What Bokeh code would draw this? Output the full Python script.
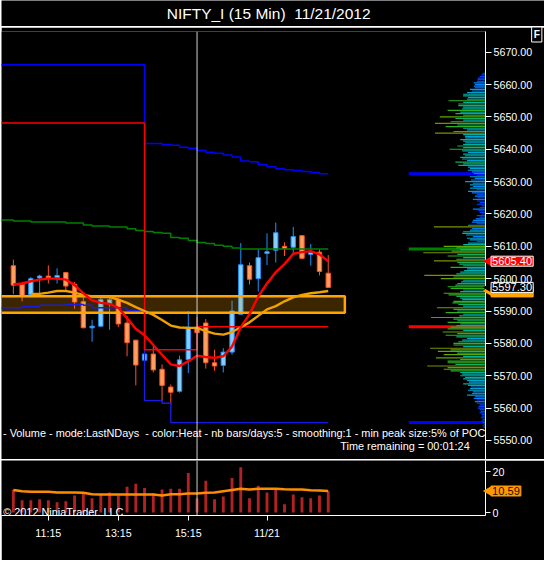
import math
import numpy as np
from bokeh.plotting import figure
from bokeh.models import Range1d, FixedTicker, NumeralTickFormatter, Span, Label, ColumnDataSource, GridBox
from bokeh.embed import file_html
from bokeh.resources import INLINE

S = 544 / 560.0
FONT = "Liberation Sans"
def fs(px):
    return f"{px * S:.1f}px"

# ---------------- data ----------------
bar_idx = list(range(37))
opens = [5604.0, 5598.3, 5595.0, 5600.2, 5600.8, 5600.3, 5601.9, 5598.3, 5592.9, 5584.8,
         5585.3, 5592.2, 5593.5, 5586.3, 5581.0, 5574.8, 5576.7, 5572.0, 5566.5, 5565.2,
         5575.0, 5585.0, 5586.3, 5574.0, 5573.2, 5577.3, 5589.0, 5604.0, 5600.0, 5607.8,
         5608.8, 5610.0, 5609.7, 5613.3, 5607.5, 5608.2, 5601.7]
closes = [5598.0, 5594.8, 5600.0, 5600.8, 5600.2, 5601.0, 5597.7, 5592.8, 5584.8, 5585.3,
          5593.5, 5593.5, 5586.0, 5580.2, 5573.3, 5576.7, 5571.8, 5567.0, 5564.9, 5574.9,
          5585.0, 5583.3, 5574.0, 5573.0, 5577.3, 5590.0, 5604.3, 5599.8, 5606.5, 5608.3,
          5614.2, 5609.3, 5613.0, 5606.3, 5608.1, 5602.2, 5597.3]
highs = [5605.9, 5599.0, 5600.5, 5601.2, 5604.1, 5603.2, 5602.0, 5599.0, 5594.2, 5587.3,
         5594.0, 5594.5, 5594.0, 5588.5, 5581.0, 5577.0, 5579.2, 5573.5, 5567.3, 5576.2,
         5590.0, 5588.2, 5587.5, 5578.0, 5578.5, 5593.2, 5611.0, 5605.0, 5609.0, 5614.0,
         5617.3, 5611.2, 5616.0, 5613.3, 5610.7, 5609.0, 5607.3]
lows = [5595.2, 5593.0, 5594.5, 5595.0, 5598.5, 5598.5, 5596.5, 5590.7, 5584.8, 5580.5,
        5585.0, 5584.2, 5585.0, 5576.0, 5567.0, 5574.5, 5571.0, 5562.0, 5561.0, 5564.8,
        5570.8, 5583.3, 5572.2, 5571.5, 5571.0, 5576.5, 5589.0, 5598.2, 5596.0, 5604.2,
        5605.0, 5607.0, 5608.0, 5606.0, 5604.0, 5601.0, 5597.3]

ema = [5598.2, 5598.5, 5599.2, 5599.7, 5600.0, 5600.0, 5599.7, 5598.0, 5595.5, 5593.3,
       5592.5, 5592.2, 5591.0, 5587.8, 5584.5, 5582.5, 5579.5, 5576.5, 5573.5, 5573.0,
       5574.5, 5576.2, 5575.8, 5575.5, 5576.0, 5579.0, 5585.0, 5589.0, 5594.5, 5598.5,
       5602.0, 5604.5, 5607.7, 5608.2, 5608.5, 5607.5, 5605.4]
sma_idx = list(range(2, 37))
sma = [5595.3, 5595.3, 5595.7, 5596.2, 5596.2, 5595.7, 5595.0, 5594.5, 5594.3, 5594.3,
       5593.5, 5592.5, 5591.2, 5590.0, 5588.8, 5587.2, 5585.5, 5584.9, 5584.8, 5584.8,
       5583.8, 5583.0, 5582.7, 5583.5, 5585.0, 5586.5, 5588.5, 5590.5, 5591.5, 5593.0,
       5594.2, 5595.0, 5595.5, 5595.8, 5596.2]

# value-area style step lines (x = bar index where each value starts)
vah_x = [-2, 15, 17, 18, 19, 20, 21, 22, 23, 24, 25, 26, 27, 28, 29, 30, 31, 32, 33, 34, 35, 36]
vah_y = [5666.1, 5641.8, 5641.5, 5641.2, 5640.6, 5640.3, 5639.7, 5639.1, 5638.8, 5638.2, 5637.6,
         5636.4, 5636.1, 5635.2, 5634.6, 5634.0, 5633.7, 5633.4, 5633.1, 5632.8, 5632.4, 5632.4]
poc_x = [-2, 15, 21, 36]
poc_y = [5648.1, 5578.0, 5585.1, 5585.1]
val_x = [-2, 1, 3, 6, 8, 9, 13, 15, 17, 18, 36]
val_y = [5591.0, 5591.4, 5591.8, 5592.0, 5591.8, 5591.0, 5590.2, 5562.3, 5561.5, 5555.5, 5555.5]
grn_x = [-2, 0, 2, 6, 8, 9, 11, 13, 14, 15, 16, 17, 18, 19, 20, 21, 22, 23, 24, 25, 26, 36]
grn_y = [5618.1, 5617.8, 5617.5, 5617.2, 5616.6, 5616.3, 5616.0, 5615.4, 5614.9, 5614.6, 5614.3,
         5614.0, 5612.7, 5612.5, 5611.8, 5611.2, 5610.9, 5610.3, 5610.0, 5609.5, 5609.2, 5609.2]

zone_top, zone_bottom = 5594.6, 5589.5
zone_x0, zone_x1 = -2, 37.9

volumes = [11.1, 6.0, 6.0, 6.5, 6.0, 5.1, 5.6, 8.4, 9.5, 7.0, 8.7, 9.8, 8.4, 12.7, 14.1, 12.1,
           9.5, 11.3, 11.7, 11.7, 19.4, 7.0, 15.6, 6.5, 7.9, 17.0, 22.2, 7.0, 13.2, 9.8, 11.9,
           4.1, 8.9, 7.5, 7.0, 8.4, 10.5]
vol_ma = [11.1, 10.5, 10.2, 10.2, 10.2, 9.8, 9.8, 9.8, 9.7, 9.0, 8.9, 8.9, 8.9, 8.9, 8.9, 8.9,
          8.9, 8.4, 9.0, 9.0, 9.4, 9.4, 9.7, 9.8, 10.5, 11.1, 11.7, 11.3, 11.7, 11.7, 11.7,
          11.4, 11.3, 11.3, 11.0, 10.8, 10.59]

# volume profile: price levels every 0.5 from 5554.0, lengths bottom -> top
prof_levels = np.arange(5554.0, 5664.0, 0.5)
prof_len = [
    2, 3, 2, 3, 4, 3, 5, 4, 4, 6,
    5, 6, 8, 7, 6, 9, 11, 9, 12, 11,
    19, 14, 13, 18, 16, 15, 18, 23, 17, 19,
    23, 21, 26, 24, 26, 36, 43, 39, 60, 31,
    39, 39, 26, 51, 23, 43, 29, 49, 36, 57,
    23, 33, 33, 28, 24, 19, 30, 41, 29, 44,
    23, 39, 36, 30, 26, 39, 29, 33, 56, 27,
    23, 41, 29, 33, 50, 23, 28, 34, 33, 24,
    26, 30, 38, 43, 26, 23, 36, 39, 31, 29,
    25, 23, 46, 33, 63, 30, 26, 22, 19, 36,
    23, 27, 29, 53, 30, 23, 39, 29, 64, 35,
    26, 30, 43, 23, 18, 9, 16, 19, 13, 20,
    24, 23, 16, 14, 53, 18, 9, 14, 13, 10,
    6, 9, 4, 6, 8, 13, 6, 4, 9, 6,
    9, 13, 8, 11, 9, 14, 18, 9, 16, 13,
    16, 13, 21, 15, 11, 16, 9, 12, 14, 18,
    16, 18, 28, 23, 31, 19, 24, 26, 21, 23,
    18, 24, 37, 23, 29, 23, 21, 23, 26, 21,
    21, 23, 52, 33, 19, 23, 41, 29, 52, 36,
    23, 31, 47, 23, 31, 26, 39, 24, 23, 28,
    28, 23, 38, 19, 18, 23, 23, 19, 14, 16,
    11, 12, 11, 12, 9, 8, 8, 6, 4, 3]

price_ticks = [5550, 5560, 5570, 5580, 5590, 5600, 5610, 5620, 5630, 5640, 5650, 5660, 5670]
vol_ticks = [0, 20]
time_tick_idx = [4, 12, 20, 29]
time_tick_lab = ["11:15", "13:15", "15:15", "11/21"]
crosshair_idx = 21
last_price = 5597.3

TITLE = "NIFTY_I (15 Min) \u00a011/21/2012"
INFO = "- Volume - mode:LastNDays \u00a0- color:Heat - nb bars/days:5 - smoothing:1 - min peak size:5% of POC"
TIMER = "Time remaining = 00:01:24"
COPYRIGHT = "\u00a9 2012 NinjaTrader, LLC"

# ---------------- styling ----------------
UP_FILL, UP_LINE = "#87CEFA", "#1E90FF"
DN_FILL, DN_LINE = "#FFA060", "#FF5020"

def heat(L, mx):
    r = L / mx
    if r < 0.15: return "#0040FF"
    if r < 0.25: return "#0080FF"
    if r < 0.33: return "#00A0D0"
    if r < 0.42: return "#00B0A0"
    if r < 0.50: return "#10B060"
    if r < 0.65: return "#30B020"
    if r < 0.80: return "#60A800"
    return "#7A9000"

def style_axis(ax, tick_out):
    ax.axis_line_color = "white"
    ax.axis_line_width = 1
    ax.major_tick_line_color = "white"
    ax.minor_tick_line_color = None
    ax.major_tick_out = tick_out
    ax.major_tick_in = 0
    ax.major_label_text_color = "white"
    ax.major_label_text_font = FONT
    ax.major_label_text_font_size = fs(11)

def bare(fig):
    fig.grid.visible = False
    return fig

W = 543
TITLE_H = 26
MAIN_H, MAIN_TOP = 432, 4
VOL_H, VOL_FRAME = 100, 55
xr = Range1d(-1.356, 53.98)
py0, py1 = 5544.1, 5676.4
vy0, vy1 = -1.42, 25.53
ref_x = Range1d(1, 1 + W / S)   # overlay x range in reference pixels

# ---------------- title ----------------
tfig = bare(figure(width=W, height=TITLE_H, x_range=ref_x, y_range=Range1d(0, 27),
                   toolbar_location=None, output_backend="svg", x_axis_location=None,
                   y_axis_location=None, min_border=0, background_fill_color="black",
                   border_fill_color="black", outline_line_color=None, margin=(0, 0, 0, 1)))
tfig.add_layout(Label(x=276, y=13.2, text=TITLE, text_align="center",
                      text_baseline="middle", text_color="white", text_font=FONT,
                      text_font_size=fs(16)))

# ---------------- main price panel ----------------
main = bare(figure(width=W, height=MAIN_H, x_range=xr, y_range=Range1d(py0, py1),
                   toolbar_location=None, output_backend="svg", x_axis_location=None,
                   y_axis_location="right", background_fill_color="black",
                   border_fill_color="black", outline_line_color=None,
                   min_border_left=0, min_border_right=59, min_border_top=MAIN_TOP,
                   min_border_bottom=0, margin=(0, 0, 0, 1)))
main.extra_x_ranges = {"prof": Range1d(498, 0)}
style_axis(main.yaxis, 6)
main.yaxis.ticker = FixedTicker(ticks=price_ticks)
main.yaxis.formatter = NumeralTickFormatter(format="0.00")
main.yaxis.major_label_standoff = 2

marker_len = 79
for yv, col in [(vah_y[-1], "#0000FF"), (grn_y[-1], "#008000"), (poc_y[-1], "#FF0000"), (val_y[-1], "#0000FF")]:
    main.segment(x0=0, x1=marker_len, y0=yv, y1=yv, x_range_name="prof", line_color=col, line_width=3)

pmax = max(prof_len)
psrc = ColumnDataSource(dict(y=prof_levels, r=prof_len, c=[heat(v, pmax) for v in prof_len]))
main.hbar(y="y", left=0, right="r", height=0.36, fill_color="c", line_color=None,
          source=psrc, x_range_name="prof")

up = [c >= o for o, c in zip(opens, closes)]
csrc = ColumnDataSource(dict(
    x=bar_idx, h=highs, l=lows,
    top=[max(o, c) for o, c in zip(opens, closes)],
    bot=[min(o, c) for o, c in zip(opens, closes)],
    fill=[UP_FILL if u else DN_FILL for u in up],
    line=[UP_LINE if u else DN_LINE for u in up]))
main.segment(x0="x", y0="h", x1="x", y1="l", line_color="line", line_width=1, source=csrc)
main.vbar(x="x", width=0.5, top="top", bottom="bot", fill_color="fill", line_color="line",
          line_width=1, source=csrc)

main.quad(left=zone_x0, right=zone_x1, bottom=zone_bottom, top=zone_top,
          fill_color="#FFA500", fill_alpha=0.23, line_color="#FFA500", line_width=2.5)

main.step(x=grn_x, y=grn_y, mode="after", line_color="#008000", line_width=1.5)
main.step(x=vah_x, y=vah_y, mode="after", line_color="#0000FF", line_width=1.5)
main.step(x=val_x, y=val_y, mode="after", line_color="#1A1AE6", line_width=1.4)
main.step(x=poc_x, y=poc_y, mode="after", line_color="#FF0000", line_width=1.5)

main.line(sma_idx, sma, line_color="#F0A000", line_width=2.4)
main.line(bar_idx, ema, line_color="#FF0000", line_width=2.4)

main.add_layout(Span(location=crosshair_idx, dimension="height", line_color="#D0D0D0", line_width=1))

main.add_layout(Label(x=1.5, y=26.7, x_units="screen", y_units="screen", text=INFO,
                      text_color="white", text_font=FONT, text_font_size=fs(11.2), text_baseline="middle"))
main.add_layout(Label(x=468.2, y=13.6, x_units="screen", y_units="screen", text=TIMER,
                      text_align="right", text_color="white", text_font=FONT,
                      text_font_size=fs(11.2), text_baseline="middle"))

# transparent overlay over title + main panel (value tags over the price scale)
ppp = (MAIN_H - MAIN_TOP) / (py1 - py0)
OV_H = TITLE_H + 1 + MAIN_H
ov_main = bare(figure(width=W, height=OV_H, x_range=ref_x,
                      y_range=Range1d(py0, py0 + OV_H / ppp),
                      toolbar_location=None, output_backend="svg", x_axis_location=None,
                      y_axis_location=None, min_border=0, background_fill_color=None,
                      border_fill_color=None, outline_line_color=None, margin=(0, 0, 0, 1)))

def tag(fig, yv, text, fill, border, tcolor, yoff=0):
    fig.scatter(x=[503.0], y=[yv], marker="triangle", angle=math.pi / 2, size=11,
                fill_color=fill, line_color=None)
    fig.add_layout(Label(x=505.0, y=yv, text=text, text_color=tcolor, text_font=FONT,
                         text_font_size=fs(11.4), text_baseline="middle", y_offset=yoff,
                         background_fill_color=fill, border_line_color=border, padding=1))

tag(ov_main, sma[-1], f"{sma[-1]:.2f}", "#FFA500", "#FFA500", "#FFA500", yoff=-1)
tag(ov_main, last_price, f"{last_price:.2f}", "black", "white", "white")
tag(ov_main, ema[-1], f"{ema[-1]:.2f}", "#FF0000", "white", "white")
ov_main.add_layout(Label(x=552, y=OV_H - 35 * S, x_units="data", y_units="screen",
                         text="F", text_color="white", text_font=FONT, text_font_size=fs(10.5),
                         text_font_style="bold", text_align="center", text_baseline="middle",
                         background_fill_color="black", border_line_color="white", padding=2))

# ---------------- volume panel ----------------
vol = bare(figure(width=W, height=VOL_H, x_range=xr, y_range=Range1d(vy0, vy1),
                  toolbar_location=None, output_backend="svg", x_axis_location="below",
                  y_axis_location="right", background_fill_color="black",
                  border_fill_color="black", outline_line_color=None,
                  min_border_left=0, min_border_right=59, min_border_top=0,
                  min_border_bottom=VOL_H - VOL_FRAME, margin=(0, 0, 0, 1)))
style_axis(vol.yaxis, 5)
vol.yaxis.ticker = FixedTicker(ticks=vol_ticks)
vol.yaxis.major_label_standoff = 2
style_axis(vol.xaxis, 5)
vol.xaxis.ticker = FixedTicker(ticks=time_tick_idx)
vol.xaxis.major_label_overrides = {k: v for k, v in zip(time_tick_idx, time_tick_lab)}
vol.xaxis.major_label_standoff = 6

vol.vbar(x=bar_idx, top=volumes, bottom=0, width=0.33, fill_color="#B22222", line_color=None)
vol.line(bar_idx, vol_ma, line_color="#FF8C00", line_width=2.5)
vol.add_layout(Span(location=crosshair_idx, dimension="height", line_color="#D0D0D0", line_width=1))
vol.add_layout(Label(x=1.7, y=3.6, x_units="screen", y_units="screen", text=COPYRIGHT,
                     text_color="white", text_font=FONT, text_font_size=fs(11.2),
                     text_baseline="alphabetic"))

ov_vol = bare(figure(width=W, height=VOL_H, x_range=ref_x, y_range=Range1d(vy0, vy1),
                     toolbar_location=None, output_backend="svg", x_axis_location=None,
                     y_axis_location=None, min_border=0, min_border_top=0,
                     min_border_bottom=VOL_H - VOL_FRAME, background_fill_color=None,
                     border_fill_color=None, outline_line_color=None, margin=(0, 0, 0, 1)))
tag(ov_vol, vol_ma[-1], f"{vol_ma[-1]:.2f}", "#FF9900", "#FF9900", "#201000")

layout = GridBox(children=[(tfig, 0, 0, 1, 2), (main, 1, 0, 1, 1), (vol, 2, 0, 1, 1),
                           (ov_main, 0, 0, 2, 2), (ov_vol, 2, 0, 1, 2)],
                 spacing=(1, 0))
open("out.html", "w").write(file_html(layout, INLINE))
